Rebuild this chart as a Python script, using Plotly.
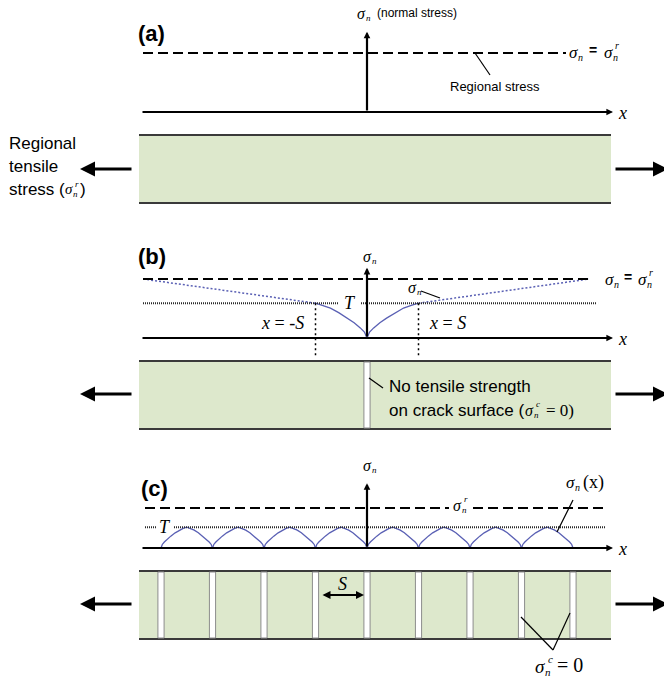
import plotly.graph_objects as go

# ---------------- data (model units) ----------------
# x measured in crack spacings S, stresses relative to the regional stress
REGIONAL_STRESS = 1.0
TENSILE_STRENGTH_B = 0.59          # T relative to sigma_n^r, panel (b)
TENSILE_STRENGTH_C = 0.52          # T relative to sigma_n^r, panel (c)
CRACKS_B = [0]                     # crack positions (in S), panel (b)
CRACKS_C = [-4, -3, -2, -1, 0, 1, 2, 3, 4]   # crack positions (in S), panel (c)
PROFILE_DIST = [0.0, 0.05, 0.13, 0.25, 0.38, 0.55, 0.71, 0.86, 1.0]     # distance from crack / half-width
PROFILE_STRESS = [0.0, 0.17, 0.29, 0.44, 0.57, 0.73, 0.86, 0.94, 1.0]  # sigma_n / T
FAR_FIELD_B = [-4.35, 4.31]        # where sigma_n recovers sigma_n^r in (b)

# ---------------- page geometry ----------------
W, H = 664, 680
X0_PX, S_PX = 367, 51.5
AXIS_PX = [112, 338, 548]          # pixel row of sigma_n = 0 for each panel
UNIT_PX = [59, 59, 40]             # pixels per unit of regional stress
RECT_PX = [(135, 203), (361, 429), (571, 639)]
ARROW_ROW = [169, 394, 604]
RECT_X = (139, 611)
GREEN = "#dde8cc"
BLUE = "#5a60b4"
SANS = "Liberation Sans, Arial, sans-serif"
SERIF = "Liberation Serif, Times New Roman, serif"

fig = go.Figure()

YAX = ["y", "y2", "y3"]


def line(x0, y0, x1, y1, xref="x2", yref="y4", color="black", width=1.0, dash=None):
    fig.add_shape(type="line", x0=x0, y0=y0, x1=x1, y1=y1, xref=xref, yref=yref,
                  line=dict(color=color, width=width, dash=dash))


def text(x, y, s, size=17, family=SANS, xanchor="left", color="black"):
    fig.add_annotation(x=x, y=y, xref="x2", yref="y4", text=s, showarrow=False,
                       font=dict(family=family, size=size, color=color),
                       xanchor=xanchor, yanchor="middle", borderpad=0)


def arrow(xt, yt, xh, yh, width=2, size=1.0, head=2, xref="x2", yref="y4", both=False):
    fig.add_annotation(x=xh, y=yh, ax=xt, ay=yt, xref=xref, yref=yref, axref=xref, ayref=yref,
                       text="", showarrow=True, arrowhead=head, arrowsize=size, arrowwidth=width,
                       arrowcolor="black", arrowside="end+start" if both else "end",
                       startarrowhead=head, startarrowsize=size, standoff=0, startstandoff=0)


def sigma(x, y, sub="n", sup=None, size=17):
    text(x, y, "<i>σ</i>", size=size, family=SERIF)
    text(x + 0.55 * size, y + 0.34 * size, f"<i>{sub}</i>", size=round(size * 0.58), family=SERIF)
    if sup:
        text(x + 0.66 * size, y - 0.36 * size, f"<i>{sup}</i>", size=round(size * 0.58), family=SERIF)


# ---------------- blocks (rock layers) ----------------
for i, (top, bot) in enumerate(RECT_PX):
    fig.add_shape(type="rect", x0=RECT_X[0], x1=RECT_X[1], y0=top, y1=bot, xref="x2", yref="y4",
                  fillcolor=GREEN, line=dict(width=0), layer="below")
    line(RECT_X[0], top, RECT_X[1], top, color="#3a3a3a", width=2.2)
    line(RECT_X[0], bot, RECT_X[1], bot, color="#3a3a3a", width=2.2)
    arrow(133, ARROW_ROW[i], 80, ARROW_ROW[i], width=3, size=1.0)
    arrow(614, ARROW_ROW[i], 668, ARROW_ROW[i], width=3, size=1.0)

# cracks
for cracks, (top, bot) in [(CRACKS_B, RECT_PX[1]), (CRACKS_C, RECT_PX[2])]:
    for k in cracks:
        fig.add_shape(type="rect", x0=k - 0.06, x1=k + 0.06, y0=top + 1, y1=bot - 1,
                      xref="x", yref="y4", fillcolor="white", line=dict(color="#8c8c8c", width=1))

# ---------------- stress axes ----------------
AXIS_TOP = [1.36, 1.19, 1.62]
for i, ya in enumerate(YAX):
    arrow(141, 0, 613, 0, width=2.2, size=0.6, xref="x2", yref=ya)
    fig.add_annotation(x=0, y=AXIS_TOP[i], ax=0, ay=0, xref="x", yref=ya, axref="x", ayref=ya,
                       text="", showarrow=True, arrowhead=2, arrowsize=0.6, arrowwidth=2.2,
                       arrowcolor="black", standoff=0)
    text(617, AXIS_PX[i] + 1, "<i>x</i>", size=18, family=SERIF)

# regional stress dashed lines
DASH = "10px,5px"
line(143, REGIONAL_STRESS, 566, REGIONAL_STRESS, yref="y", width=2, dash=DASH)
line(143, REGIONAL_STRESS, 591, REGIONAL_STRESS, yref="y2", width=2, dash=DASH)
line(145, REGIONAL_STRESS, 449, REGIONAL_STRESS, yref="y3", width=2, dash=DASH)
line(473, REGIONAL_STRESS, 604, REGIONAL_STRESS, yref="y3", width=2, dash=DASH)

# tensile strength dotted lines
DOT = "1px,1px"
TCOL = "#2a2a2a"
line(143, TENSILE_STRENGTH_B, 339, TENSILE_STRENGTH_B, yref="y2", width=2, color=TCOL, dash=DOT)
line(361, TENSILE_STRENGTH_B, 597, TENSILE_STRENGTH_B, yref="y2", width=2, color=TCOL, dash=DOT)
line(145, TENSILE_STRENGTH_C, 157, TENSILE_STRENGTH_C, yref="y3", width=2, color=TCOL, dash=DOT)
line(174, TENSILE_STRENGTH_C, 606, TENSILE_STRENGTH_C, yref="y3", width=2, color=TCOL, dash=DOT)

# ---------------- stress curves ----------------
# panel (b): single crack
xb = [-d for d in reversed(PROFILE_DIST)] + PROFILE_DIST[1:]
yb = [TENSILE_STRENGTH_B * s for s in reversed(PROFILE_STRESS)] + \
     [TENSILE_STRENGTH_B * s for s in PROFILE_STRESS[1:]]
fig.add_trace(go.Scatter(x=xb, y=yb, xaxis="x", yaxis="y2", mode="lines",
                         line=dict(color=BLUE, width=1.3), hoverinfo="skip"))
for side, far in [(-1, FAR_FIELD_B[0]), (1, FAR_FIELD_B[1])]:
    fig.add_trace(go.Scatter(x=[side * PROFILE_DIST[-1], far], y=[TENSILE_STRENGTH_B, REGIONAL_STRESS],
                             xaxis="x", yaxis="y2", mode="lines",
                             line=dict(color=BLUE, width=1.5, dash="2px,2px"), hoverinfo="skip"))
# vertical dotted guides at x = +-S
for xs in [-1, 1]:
    line(xs, TENSILE_STRENGTH_B, xs, -0.34, xref="x", yref="y2", width=1.5, dash="2px,3px")

# panel (c): arcs between cracks
for a, b in zip(CRACKS_C[:-1], CRACKS_C[1:]):
    half = (b - a) / 2
    xc = [a + half * d for d in PROFILE_DIST] + [b - half * d for d in reversed(PROFILE_DIST[:-1])]
    yc = [TENSILE_STRENGTH_C * s for s in PROFILE_STRESS] + \
         [TENSILE_STRENGTH_C * s for s in reversed(PROFILE_STRESS[:-1])]
    fig.add_trace(go.Scatter(x=xc, y=yc, xaxis="x", yaxis="y3", mode="lines",
                             line=dict(color=BLUE, width=1.3), hoverinfo="skip"))

# ---------------- labels: panel (a) ----------------
text(137, 33, "<b>(a)</b>", size=22)
sigma(356, 13, size=16)
text(376, 13, "(normal stress)", size=12)
sigma(568, 52, size=17)
text(593, 50, "<b>=</b>", size=14, xanchor="center")
sigma(603, 52, sup="r", size=17)
line(475, 53, 490, 75, width=1.2)
text(495, 86, "Regional stress", size=13, xanchor="center")
text(8, 143, "Regional", size=17)
text(8, 166, "tensile", size=17)
text(8, 189, "stress (", size=17)
sigma(64, 189, sup="r", size=15)
text(79, 189, ")", size=17)

# ---------------- labels: panel (b) ----------------
text(137, 256, "<b>(b)</b>", size=22)
sigma(362, 256, size=16)
sigma(604, 279, size=17)
text(628, 277, "<b>=</b>", size=14, xanchor="center")
sigma(637, 279, sup="r", size=17)
text(350, 303, "<i>T</i>", size=18, family=SERIF, xanchor="center")
sigma(407, 287, size=16)
line(421, 291, 440, 298, width=1.2)
text(305, 323, "<i>x</i> = -<i>S</i>", size=18, family=SERIF, xanchor="right")
text(428, 323, "<i>x</i> = <i>S</i>", size=18, family=SERIF)
line(369, 378, 383, 388, width=1.2)
text(388, 386, "No tensile strength", size=17)
text(388, 410, "on crack surface (", size=17)
sigma(524, 410, sup="c", size=16)
text(545, 410, "= 0)", size=17, family=SERIF)

# ---------------- labels: panel (c) ----------------
text(140, 488, "<b>(c)</b>", size=22)
sigma(362, 465, size=16)
sigma(452, 505, sup="r", size=16)
text(165, 527, "<i>T</i>", size=18, family=SERIF, xanchor="center")
sigma(565, 482, size=17)
text(582, 482, "(x)", size=18, family=SERIF)
line(573, 500, 557, 532, width=1.2)
text(342, 584, "<i>S</i>", size=18, family=SERIF, xanchor="center")
arrow(321, 595, 364, 595, width=2, size=0.8, both=True)
line(553, 650, 521, 617, width=1.2)
line(553, 650, 570, 613, width=1.2)
sigma(534, 666, sup="c", size=19)
text(556, 665, "= 0", size=20, family=SERIF)

# ---------------- axes / layout ----------------
xr = [-X0_PX / S_PX, (W - X0_PX) / S_PX]
hidden = dict(visible=False, showgrid=False, zeroline=False, fixedrange=True)
layout_axes = {}
for i, ya in enumerate(YAX):
    name = "yaxis" if i == 0 else f"yaxis{i + 1}"
    rng = [(AXIS_PX[i] - H) / UNIT_PX[i], AXIS_PX[i] / UNIT_PX[i]]
    cfg = dict(hidden, range=rng, domain=[0, 1], anchor="x")
    if i > 0:
        cfg["overlaying"] = "y"
    layout_axes[name] = cfg
layout_axes["yaxis4"] = dict(hidden, range=[H, 0], domain=[0, 1], anchor="x", overlaying="y")
layout_axes["xaxis"] = dict(hidden, range=xr, domain=[0, 1], anchor="y")
layout_axes["xaxis2"] = dict(hidden, range=[0, W], domain=[0, 1], anchor="y", overlaying="x")

# invisible anchors so every axis is instantiated
for xa, ya in [("x2", "y4"), ("x", "y")]:
    fig.add_trace(go.Scatter(x=[None], y=[None], xaxis=xa, yaxis=ya, mode="markers", hoverinfo="skip"))

fig.update_layout(width=W, height=H, margin=dict(l=0, r=0, t=0, b=0), showlegend=False,
                  paper_bgcolor="white", plot_bgcolor="white", **layout_axes)

fig.write_html("out.html")
